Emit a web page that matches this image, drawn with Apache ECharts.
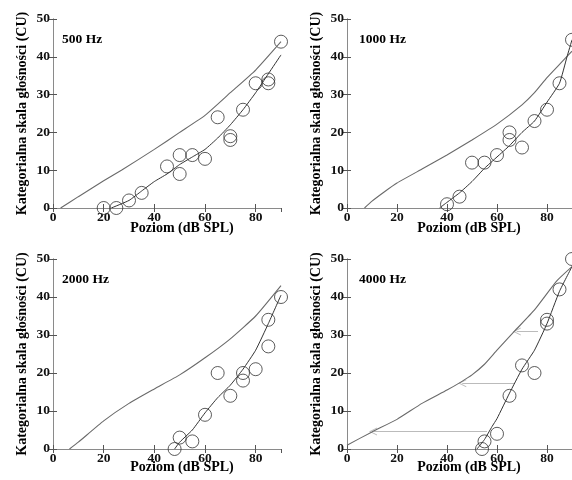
<!DOCTYPE html>
<html>
<head>
<meta charset="utf-8">
<script src="https://cdn.jsdelivr.net/npm/echarts@6/dist/echarts.min.js"></script>
<style>html,body{margin:0;padding:0;background:#fff}#c{width:572px;height:480px}</style>
</head>
<body>
<div id="c"></div>
<script>
// ---- data ----
var panelTitles = ['500 Hz', '1000 Hz', '2000 Hz', '4000 Hz'];
var xTicks = [0, 20, 40, 60, 80];
var yTicks = [0, 10, 20, 30, 40, 50];

var pts500X = [20, 25, 30, 35, 45, 50, 50, 55, 60, 65, 70, 70, 75, 80, 85, 85, 90];
var pts500Y = [0, 0, 2, 4, 11, 14, 9, 14, 13, 24, 19, 18, 26, 33, 34, 33, 44];
var up500X = [3, 10, 20, 27, 40, 50, 60, 70, 80, 90];
var up500Y = [0, 3, 7.2, 10, 15.5, 20, 24.5, 30.5, 36.5, 44];
var low500X = [23, 30, 35, 40, 45, 50, 55, 60, 65, 70, 75, 80, 85, 90];
var low500Y = [0, 2, 4.5, 7, 9, 11.5, 13.5, 15.5, 18.5, 22, 26, 30.5, 35.5, 40.5];

var pts1000X = [40, 45, 50, 55, 60, 65, 65, 70, 75, 80, 85, 90];
var pts1000Y = [1, 3, 12, 12, 14, 20, 18, 16, 23, 26, 33, 44.5];
var up1000X = [7, 10, 15, 20, 30, 40, 50, 60, 70, 75, 80, 85, 90];
var up1000Y = [0, 1.8, 4.3, 6.6, 10.3, 14, 18, 22.2, 27.3, 30.5, 34.5, 38, 41.5];
var low1000X = [37, 40, 45, 50, 55, 60, 65, 70, 75, 80, 85, 88, 90];
var low1000Y = [0, 1.5, 4, 7, 10.5, 13.5, 16.5, 20, 23, 28, 33, 40, 44.5];

var pts2000X = [48, 50, 55, 60, 65, 70, 75, 75, 80, 85, 85, 90];
var pts2000Y = [0, 3, 2, 9, 20, 14, 20, 18, 21, 34, 27, 40];
var up2000X = [6.5, 10, 20, 30, 40, 50, 60, 70, 80, 90];
var up2000Y = [0, 1.8, 7.4, 12, 15.8, 19.5, 24, 29, 35, 43];
var low2000X = [48, 50, 55, 60, 65, 70, 75, 80, 85, 90];
var low2000Y = [0, 1.8, 5, 9.5, 13.5, 16.8, 21, 26, 33, 40.5];

var pts4000X = [54, 55, 60, 65, 70, 75, 80, 80, 85, 90];
var pts4000Y = [0, 2, 4, 14, 22, 20, 34, 33, 42, 50];
var up4000X = [0, 10, 20, 30, 40, 46, 50, 55, 60, 67, 75, 84, 90];
var up4000Y = [1, 4.5, 7.8, 12, 15.5, 17.8, 19.5, 22.3, 26, 31, 36.6, 44.3, 48];
var low4000X = [52, 55, 58, 60, 65, 70, 75, 80, 85, 90];
var low4000Y = [0, 2.5, 5.9, 8, 14.7, 21, 26, 33, 41.5, 48];

var arrowY = [4.6, 17.3, 30.9];
var arrowFrom = [56, 67.2, 76.4];
var arrowTo = [10.4, 46.1, 67.9];

var panels = [
  {px: pts500X, py: pts500Y, ux: up500X, uy: up500Y, lx: low500X, ly: low500Y},
  {px: pts1000X, py: pts1000Y, ux: up1000X, uy: up1000Y, lx: low1000X, ly: low1000Y},
  {px: pts2000X, py: pts2000Y, ux: up2000X, uy: up2000Y, lx: low2000X, ly: low2000Y},
  {px: pts4000X, py: pts4000Y, ux: up4000X, uy: up4000Y, lx: low4000X, ly: low4000Y}
];

function zip(a, b) { return a.map(function (v, i) { return [v, b[i]]; }); }

var FONT = '"Liberation Serif", "Times New Roman", serif';
var gridsPos = [
  {left: 53, top: 19, width: 228, height: 189},
  {left: 347, top: 19, width: 227, height: 189},
  {left: 53, top: 259, width: 228, height: 190},
  {left: 347, top: 259, width: 227, height: 190}
];
var axisLine = {show: true, lineStyle: {color: '#8a8a8a', width: 1}};
var axisTick = {show: true, inside: true, length: 4, lineStyle: {color: '#555', width: 1}};
var labelStyle = {fontFamily: FONT, fontWeight: 'bold', fontSize: 13.5, color: '#111'};

var grid = [], xAxis = [], yAxis = [], series = [], graphic = [];
gridsPos.forEach(function (g, i) {
  grid.push(g);
  xAxis.push({type: 'value', gridIndex: i, min: 0, max: 90, interval: 20, position: 'bottom',
    axisLine: axisLine, axisTick: axisTick, splitLine: {show: false},
    axisLabel: Object.assign({margin: 3, showMaxLabel: false}, labelStyle)});
  xAxis.push({type: 'value', gridIndex: i, min: 0, max: 90, interval: 20, position: 'top',
    axisLine: axisLine, axisTick: axisTick, splitLine: {show: false}, axisLabel: {show: false}});
  yAxis.push({type: 'value', gridIndex: i, min: 0, max: 50, interval: 10, position: 'left',
    name: 'Kategorialna skala głośności (CU)', nameLocation: 'middle', nameGap: 24,
    nameTextStyle: {fontFamily: FONT, fontWeight: 'bold', fontSize: 14, color: '#000'},
    axisLine: axisLine, axisTick: axisTick, splitLine: {show: false},
    axisLabel: Object.assign({margin: 3}, labelStyle)});
  yAxis.push({type: 'value', gridIndex: i, min: 0, max: 50, interval: 10, position: 'right',
    axisLine: axisLine, axisTick: axisTick, splitLine: {show: false}, axisLabel: {show: false}});

  var p = panels[i];
  series.push({type: 'line', xAxisIndex: 2 * i, yAxisIndex: 2 * i, data: zip(p.ux, p.uy),
    showSymbol: false, smooth: 0.15, lineStyle: {color: '#6a6a6a', width: 1.1}, silent: true});
  series.push({type: 'line', xAxisIndex: 2 * i, yAxisIndex: 2 * i, data: zip(p.lx, p.ly),
    showSymbol: false, smooth: 0.15, lineStyle: {color: '#333', width: 1}, silent: true});
  series.push({type: 'scatter', xAxisIndex: 2 * i, yAxisIndex: 2 * i, data: zip(p.px, p.py),
    symbol: 'circle', symbolSize: 13, clip: false,
    itemStyle: {color: 'rgba(0,0,0,0)', borderColor: '#333', borderWidth: 1}, silent: true});

  graphic.push({type: 'text', left: g.left + 9 + (i % 2) * 3, top: g.top + 14,
    style: {text: panelTitles[i], font: 'bold 13.5px ' + FONT, fill: '#000'}});
  graphic.push({type: 'text', x: g.left + 129 - (i % 2) * 7, y: g.top + g.height + (i < 2 ? 20 : 18),
    style: {text: 'Poziom (dB SPL)', font: 'bold 14px ' + FONT, fill: '#000',
      align: 'center', verticalAlign: 'middle'}});
});

series.push({type: 'lines', coordinateSystem: 'cartesian2d', xAxisIndex: 6, yAxisIndex: 6,
  data: arrowY.map(function (y, k) { return {coords: [[arrowFrom[k], y], [arrowTo[k], y]]}; }),
  symbol: ['none', 'path://M0,0 L5,9 L3.8,9 L0,2.2 L-3.8,9 L-5,9 Z'], symbolSize: [6, 8],
  lineStyle: {color: '#777', width: 1}, silent: true});

var chart = echarts.init(document.getElementById('c'), null, {renderer: 'canvas'});
chart.setOption({backgroundColor: '#fff', animation: false, grid: grid, xAxis: xAxis, yAxis: yAxis,
  series: series, graphic: graphic});
</script>
</body>
</html>
